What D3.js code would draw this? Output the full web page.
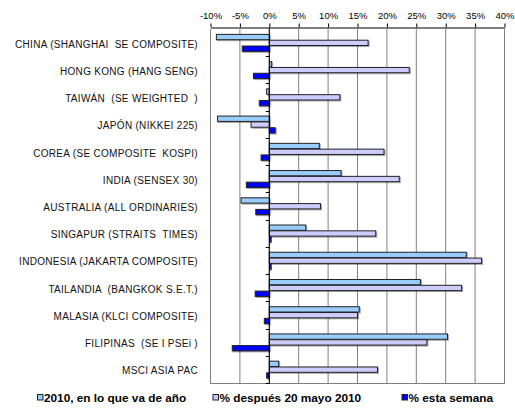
<!DOCTYPE html>
<html><head><meta charset="utf-8">
<script src="https://cdn.jsdelivr.net/npm/d3@7"></script>
<style>
body{margin:0;background:#fff;}
svg text{font-family:"Liberation Sans",Arial,sans-serif;white-space:pre;}
</style></head>
<body><svg id="c" width="515" height="410"></svg>
<script>
const categories = ["CHINA (SHANGHAI  SE COMPOSITE)","HONG KONG (HANG SENG)","TAIWÁN  (SE WEIGHTED  )","JAPÓN (NIKKEI 225)","COREA (SE COMPOSITE  KOSPI)","INDIA (SENSEX 30)","AUSTRALIA (ALL ORDINARIES)","SINGAPUR (STRAITS  TIMES)","INDONESIA (JAKARTA COMPOSITE)","TAILANDIA  (BANGKOK S.E.T.)","MALASIA (KLCI COMPOSITE)","FILIPINAS  (SE I PSEi )","MSCI ASIA PAC"];
const seriesNames = ["2010, en lo que va de año","% después 20 mayo 2010","% esta semana"];
const ytd   = [-9.0, 0.4, -0.45, -8.8, 8.5, 12.2, -4.8, 6.2, 33.5, 25.7, 15.3, 30.3, 1.6];
const since = [16.8, 23.8, 12.0, -3.1, 19.5, 22.1, 8.7, 18.1, 36.1, 32.7, 15.0, 26.8, 18.4];
const week  = [-4.6, -2.7, -1.7, 1.0, -1.4, -3.9, -2.3, 0.3, 0.3, -2.4, -0.85, -6.3, -0.45];
const tickValues = [-10,-5,0,5,10,15,20,25,30,35,40];
const colors = ["#99ccff","#ccccff","#0000ff"];

const seriesData = [ytd, since, week];
const svg = d3.select("#c");
const x = d3.scaleLinear().domain([-10,40]).range([210,504]);
const y = d3.scaleBand().domain(categories).range([29,383]).paddingInner(0.36).paddingOuter(0.18);
const yi = d3.scaleBand().domain(d3.range(3)).range([0,y.bandwidth()]);

// gridlines
svg.append("g").selectAll("line").data(tickValues).join("line")
  .attr("x1",d=>x(d)+0.5).attr("x2",d=>x(d)+0.5).attr("y1",29).attr("y2",383)
  .attr("stroke","#808080").attr("stroke-width",1);
// bottom border
svg.append("line").attr("x1",x(-10)).attr("x2",x(40)+1).attr("y1",383.5).attr("y2",383.5).attr("stroke","#808080");

// top axis
const ax = d3.axisTop(x).tickValues(tickValues).tickFormat(d=>d+"%").tickSize(4).tickSizeOuter(0);
const gA = svg.append("g").attr("transform","translate(0.5,27.5)").call(ax);
gA.select(".domain").attr("stroke","#000");
gA.selectAll(".tick line").attr("stroke","#000");
gA.selectAll("text").attr("font-size","9.5px").attr("fill","#000").attr("dy","-2px");

// bars
const defs = svg.append("defs");
const f = defs.append("filter").attr("id","sh").attr("x","-10%").attr("y","-50%").attr("width","130%").attr("height","250%");
f.append("feDropShadow").attr("dx",1).attr("dy",1).attr("stdDeviation",0.4).attr("flood-color","#000").attr("flood-opacity",0.35);

seriesData.forEach((vals,si)=>{
  svg.append("g").selectAll("rect").data(vals).join("rect")
    .attr("x",d=>x(Math.min(0,d))+0.5)
    .attr("y",(d,i)=>y(categories[i])+yi(si)+0.5)
    .attr("width",d=>Math.max(0.5,Math.abs(x(d)-x(0))))
    .attr("height",yi.bandwidth()-0.5)
    .attr("fill",colors[si]).attr("stroke","#222").attr("stroke-width",1)
    .attr("filter","url(#sh)");
});

// zero axis with category ticks
svg.append("line").attr("x1",x(0)+0.5).attr("x2",x(0)+0.5).attr("y1",28).attr("y2",384).attr("stroke","#000");
const bounds = d3.range(categories.length+1).map(i=>29+i*y.step());
svg.append("g").selectAll("line").data(bounds.slice(1)).join("line")
  .attr("x1",x(0)-3).attr("x2",x(0)+0.5).attr("y1",d=>Math.round(d)+0.5).attr("y2",d=>Math.round(d)+0.5).attr("stroke","#000");

// category labels
svg.append("g").selectAll("text").data(categories).join("text")
  .attr("x",198).attr("y",d=>y(d)+y.bandwidth()/2+1.5).attr("dy","0.35em")
  .attr("text-anchor","end").attr("font-size","10px").attr("letter-spacing","0.3px")
  .attr("fill","#111").text(d=>d);

// legend
const lx = [37,212.5,401.5];
const lg = svg.append("g").selectAll("g").data(seriesNames).join("g")
  .attr("transform",(d,i)=>`translate(${lx[i]},402)`);
lg.append("rect").attr("x",0.5).attr("y",-7.5).attr("width",5.5).attr("height",5.5)
  .attr("fill",(d,i)=>colors[i]).attr("stroke","#222");
lg.append("text").attr("x",7).attr("y",0).attr("font-size","11.8px")
  .attr("font-weight","bold").attr("fill","#000").text(d=>d);
</script></body></html>
